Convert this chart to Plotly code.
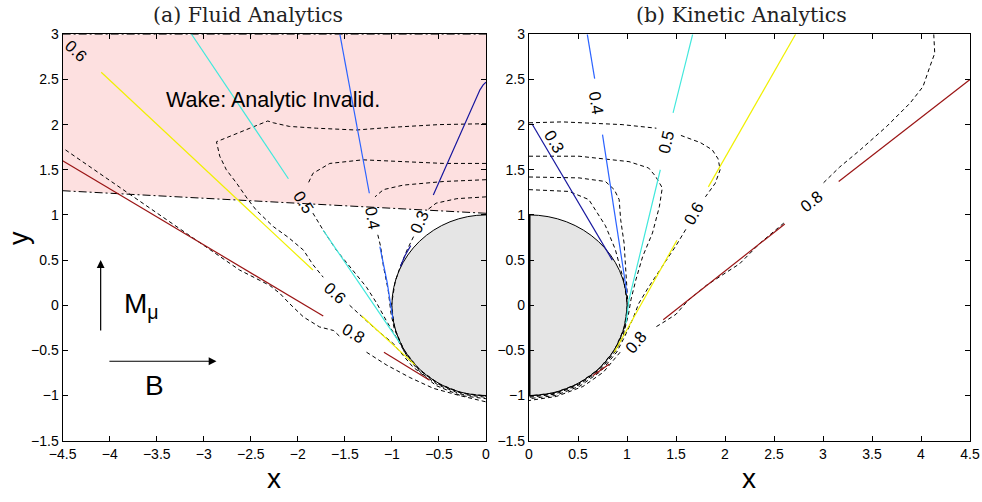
import plotly.graph_objects as go

# ---------------- data ----------------
Y_RANGE = [-1.5, 3.0]
XL_RANGE = [-4.5, 0.0]
XR_RANGE = [0.0, 4.5]
TICK_STEP = 0.5
CYL_R = 1.0

# wake boundary (fluid panel)
wake_x = [-4.5, 0.0]
wake_y = [1.268, 1.018]

# ---- (a) fluid: analytic coloured contours (None = label gap) ----
L_c03_x = [-0.56, -0.064, -0.03, 0.0, None, -0.80, -0.86, -0.91]
L_c03_y = [1.22, 2.385, 2.44, 2.47, None, 0.66, 0.55, 0.43]
L_c04_x = [-1.553, -1.24, None, -1.128, -1.05, -0.99]
L_c04_y = [3.0, 1.24, None, 0.65, 0.25, -0.15]
L_c05_x = [-3.13, -2.10, None, -1.73, -0.915]
L_c05_y = [3.0, 1.40, None, 0.83, -0.42]
L_c06_x = [-4.09, -1.84, None, -1.32, -0.755]
L_c06_y = [2.58, 0.39, None, -0.12, -0.66]
L_c08_x = [-4.5, -1.73, None, -1.085, -0.60]
L_c08_y = [1.60, -0.12, None, -0.52, -0.83]

# ---- (a) fluid: simulation dashed contours ----
L_d03_x = [0.0, -0.31, -0.53, -0.63, None, -0.77, -0.84, -0.91, -0.966, -1.005, -0.97, -0.87, -0.71, -0.50, -0.26, 0.0]
L_d03_y = [1.20, 1.18, 1.13, 1.05, None, 0.76, 0.61, 0.43, 0.259, 0.0, -0.26, -0.50, -0.71, -0.87, -0.97, -1.005]
L_d04_x = [0.0, -0.45, -0.88, -1.09, -1.18, None, -1.15, -1.12, -1.09, -1.04, -1.01, -0.975, -0.875, -0.714, -0.505, -0.26, 0.0]
L_d04_y = [1.39, 1.37, 1.33, 1.28, 1.20, None, 0.78, 0.65, 0.43, 0.17, -0.09, -0.26, -0.505, -0.714, -0.875, -0.975, -1.01]
L_d05_x = [0.0, -0.45, -0.88, -1.31, -1.66, -1.84, -1.89, None, -1.84, -1.73, -1.59, -1.45, -1.27, -1.16, -1.06, -0.94, -0.82, -0.69, -0.51, -0.264, 0.0]
L_d05_y = [1.57, 1.57, 1.59, 1.61, 1.57, 1.46, 1.35, None, 1.02, 0.83, 0.61, 0.43, 0.20, 0.02, -0.17, -0.38, -0.60, -0.75, -0.883, -0.985, -1.02]
L_d06_x = [0.0, -0.5, -1.0, -1.38, -1.8, -2.09, -2.26, -2.32, -2.51, -2.865, -2.83, -2.76, -2.65, -2.53, -2.44,
           -2.26, -2.10, -1.94, -1.84, -1.73, None, -1.45, -1.34, -1.20, -0.99, -0.78, -0.53, -0.27, 0.0]
L_d06_y = [2.01, 2.0, 1.97, 1.94, 1.96, 1.98, 2.02, 2.04, 1.96, 1.81, 1.65, 1.50, 1.35, 1.17, 1.05,
           0.87, 0.75, 0.61, 0.45, 0.31, None, 0.0, -0.11, -0.24, -0.42, -0.68, -0.89, -1.0, -1.035]
L_d08_x = [-4.47, -3.26, -2.94, -2.62, -2.30, -2.19, -2.09, -1.94, -1.77, -1.62, -1.55, None, -1.27, -1.06, -0.81, -0.56, -0.28, 0.0]
L_d08_y = [1.72, 0.85, 0.61, 0.39, 0.22, 0.13, 0.02, -0.13, -0.24, -0.28, -0.35, None, -0.52, -0.66, -0.80, -0.92, -1.0, -1.07]

# ---- (b) kinetic: analytic coloured contours ----
R_c03_x = [0.03, 0.85]
R_c03_y = [2.01, 0.50]
R_c04_x = [0.595, 0.67, None, 0.75, 1.00]
R_c04_y = [3.0, 2.51, None, 1.89, 0.13]
R_c05_x = [1.67, 1.47, None, 1.34, 1.02, 0.99]
R_c05_y = [3.0, 2.13, None, 1.50, 0.06, -0.20]
R_c06_x = [2.72, 1.83, None, 1.51, 0.87]
R_c06_y = [3.0, 1.31, None, 0.72, -0.52]
R_c08_x = [4.5, 3.16, None, 2.61, 1.37, None, 0.82, 0.65]
R_c08_y = [2.50, 1.37, None, 0.90, -0.16, None, -0.65, -0.78]

# ---- (b) kinetic: simulation dashed contours ----
R_da_x = [0.0, 0.34, 0.95, 1.30, None, 1.55, 1.75, 1.87, 1.93, 1.95, 1.90, 1.80, None, 1.60, 1.50, 1.36, 1.22, 1.12, 1.06, 0.973, 0.896, 0.732, 0.518, 0.268, 0.0]
R_da_y = [2.02, 2.03, 2.0, 1.96, None, 1.88, 1.80, 1.72, 1.62, 1.50, 1.35, 1.20, None, 0.84, 0.66, 0.43, 0.20, 0.02, -0.15, -0.354, -0.518, -0.732, -0.896, -1.0, -1.035]
R_db_x = [0.0, 0.51, 1.02, 1.22, 1.29, 1.36, 1.33, 1.26, 1.16, 1.09, 1.04, 1.015, 0.958, 0.883, 0.721, 0.51, 0.264, 0.0]
R_db_y = [1.65, 1.65, 1.59, 1.52, 1.43, 1.30, 1.09, 0.80, 0.54, 0.28, 0.06, -0.10, -0.349, -0.51, -0.721, -0.883, -0.985, -1.02]
R_dc_x = [0.0, 0.51, 0.78, 0.87, 0.92, 0.935, 0.97, 0.986, 1.0, 1.01, 0.976, 0.875, 0.714, 0.505, 0.261, 0.0]
R_dc_y = [1.42, 1.41, 1.37, 1.28, 1.17, 0.95, 0.69, 0.43, 0.14, 0.0, -0.261, -0.505, -0.714, -0.875, -0.976, -1.01]
R_dd_x = [0.0, 0.41, 0.61, 0.78, 0.88, 0.92, 0.97, 1.005, 0.97, 0.87, 0.71, 0.50, 0.26, 0.0]
R_dd_y = [1.28, 1.26, 1.17, 0.88, 0.62, 0.45, 0.26, 0.0, -0.26, -0.50, -0.71, -0.87, -0.97, -1.005]
R_d08_x = [4.13, 4.14, 4.09, 4.02, 3.89, 3.65, 3.38, 3.17, 3.00, None, 2.60, 2.36, 2.15, 1.81, 1.62, 1.50, 1.40, 1.28,
           None, 0.93, 0.76, 0.55, 0.28, 0.0]
R_d08_y = [3.0, 2.79, 2.64, 2.42, 2.24, 1.98, 1.72, 1.53, 1.35, None, 0.91, 0.69, 0.46, 0.22, 0.05, -0.10, -0.17, -0.25,
           None, -0.52, -0.74, -0.90, -1.01, -1.055]

# contour labels
L_lab_text = ["0.6", "0.5", "0.4", "0.3", "0.6", "0.8"]
L_lab_x = [-4.35, -1.94, -1.20, -0.71, -1.60, -1.41]
L_lab_y = [2.82, 1.14, 0.97, 0.92, 0.14, -0.31]
L_lab_ang = [43, 57, 80, -66, 43, 30]
R_lab_text = ["0.3", "0.4", "0.5", "0.6", "0.8", "0.8"]
R_lab_x = [0.265, 0.69, 1.395, 1.68, 2.885, 1.09]
R_lab_y = [1.81, 2.24, 1.81, 1.02, 1.15, -0.405]
R_lab_ang = [60, 81, -77, -60, -38, -50]

# arrows (tail -> head) and their captions
mu_arrow_x = [-4.096, -4.096]
mu_arrow_y = [-0.39, 0.50]
B_arrow_x = [-4.035, -2.865]
B_arrow_y = [-0.62, -0.62]
mu_text_xy = [-3.66, 0.0]
B_text_xy = [-3.52, -0.885]
wake_text_xy = [-2.26, 2.27]

# ---------------- styles ----------------
COL = {"0.3": "#16169e", "0.4": "#2a62ff", "0.5": "#40e8dc", "0.6": "#f0f000", "0.8": "#9a1414"}
PINK = "#fde0e0"
GREY = "#e5e5e5"
SANS = "Liberation Sans, Arial, sans-serif"
SERIF = "DejaVu Serif, Liberation Serif, serif"
DASH = "4px,3px"

fig = go.Figure()


def add_line(x, y, color, ax, dash="solid", width=1.2):
    fig.add_trace(go.Scatter(x=x, y=y, mode="lines", xaxis=ax[0], yaxis=ax[1],
                             line=dict(color=color, width=width, dash=dash),
                             connectgaps=False, hoverinfo="skip", showlegend=False))


AL = ("x", "y")
AR = ("x2", "y2")

# wake region
fig.add_trace(go.Scatter(x=[wake_x[0], wake_x[1], wake_x[1], wake_x[0]],
                         y=[wake_y[0], wake_y[1], Y_RANGE[1], Y_RANGE[1]],
                         fill="toself", fillcolor=PINK, mode="lines", line=dict(width=0),
                         xaxis="x", yaxis="y", hoverinfo="skip", showlegend=False))
add_line(wake_x, wake_y, "black", AL, dash="8px,3px,2px,3px", width=1)
add_line(wake_x, [Y_RANGE[1], Y_RANGE[1]], "black", AL, dash="8px,3px,2px,3px", width=1)

# dashed simulation contours
for xs, ys in [(L_d03_x, L_d03_y), (L_d04_x, L_d04_y), (L_d05_x, L_d05_y), (L_d06_x, L_d06_y), (L_d08_x, L_d08_y)]:
    add_line(xs, ys, "black", AL, dash=DASH, width=1)
for xs, ys in [(R_da_x, R_da_y), (R_db_x, R_db_y), (R_dc_x, R_dc_y), (R_dd_x, R_dd_y), (R_d08_x, R_d08_y)]:
    add_line(xs, ys, "black", AR, dash=DASH, width=1)

# coloured analytic contours
for lvl, xs, ys in [("0.3", L_c03_x, L_c03_y), ("0.4", L_c04_x, L_c04_y), ("0.5", L_c05_x, L_c05_y),
                    ("0.6", L_c06_x, L_c06_y), ("0.8", L_c08_x, L_c08_y)]:
    add_line(xs, ys, COL[lvl], AL)
for lvl, xs, ys in [("0.3", R_c03_x, R_c03_y), ("0.4", R_c04_x, R_c04_y), ("0.5", R_c05_x, R_c05_y),
                    ("0.6", R_c06_x, R_c06_y), ("0.8", R_c08_x, R_c08_y)]:
    add_line(xs, ys, COL[lvl], AR)

# flat face of the half cylinder in the kinetic panel
add_line([0.0, 0.0], [-CYL_R, CYL_R], "black", AR, width=3)

# cylinder
shapes = []
for xr, yr in [("x", "y"), ("x2", "y2")]:
    shapes.append(dict(type="circle", xref=xr, yref=yr, x0=-CYL_R, x1=CYL_R, y0=-CYL_R, y1=CYL_R,
                       fillcolor=GREY, line=dict(color="black", width=1), layer="below"))

ann = []


def label(text, x, y, xr, yr, size, family=SANS, angle=0, color="black"):
    ann.append(dict(text=text, x=x, y=y, xref=xr, yref=yr, showarrow=False, textangle=angle,
                    xanchor="center", yanchor="middle",
                    font=dict(family=family, size=size, color=color)))


for t, x, y, a in zip(L_lab_text, L_lab_x, L_lab_y, L_lab_ang):
    label(t, x, y, "x", "y", 16.5, angle=a)
for t, x, y, a in zip(R_lab_text, R_lab_x, R_lab_y, R_lab_ang):
    label(t, x, y, "x2", "y2", 16.5, angle=a)

label("Wake: Analytic Invalid.", wake_text_xy[0], wake_text_xy[1], "x", "y", 21.5)
label("M<sub>μ</sub>", mu_text_xy[0], mu_text_xy[1], "x", "y", 28)
label("B", B_text_xy[0], B_text_xy[1], "x", "y", 28)
for axs, ays in [(mu_arrow_x, mu_arrow_y), (B_arrow_x, B_arrow_y)]:
    ann.append(dict(text=" ", x=axs[1], y=ays[1], ax=axs[0], ay=ays[0], xref="x", yref="y",
                    axref="x", ayref="y", showarrow=True, arrowhead=2, arrowsize=1.3,
                    arrowwidth=1.2, arrowcolor="black"))

# titles and axis labels (paper coordinates)
label("(a) Fluid Analytics", 0.2525, 0.970, "paper", "paper", 20.5, family=SERIF, color="#222")
label("(b) Kinetic Analytics", 0.7546, 0.970, "paper", "paper", 20.5, family=SERIF, color="#222")
label("x", 0.2795, 0.046, "paper", "paper", 28)
label("x", 0.7632, 0.046, "paper", "paper", 28)
label("y", 0.0195, 0.526, "paper", "paper", 27, angle=-90)

axis_common = dict(showgrid=False, zeroline=False, showline=True, linecolor="black", linewidth=1.3,
                   mirror="ticks", ticks="inside", ticklen=5, tickcolor="black", dtick=TICK_STEP,
                   automargin=False,
                   tickfont=dict(family=SANS, size=14, color="black"))

fig.update_layout(
    width=982, height=502, margin=dict(l=0, r=0, t=0, b=0, pad=0, autoexpand=False),
    paper_bgcolor="white", plot_bgcolor="white", showlegend=False,
    xaxis=dict(domain=[0.0638, 0.4949], range=XL_RANGE, tick0=XL_RANGE[0], anchor="y", **axis_common),
    yaxis=dict(domain=[0.1221, 0.9317], range=Y_RANGE, tick0=Y_RANGE[0], anchor="x", **axis_common),
    xaxis2=dict(domain=[0.5387, 0.9878], range=XR_RANGE, tick0=XR_RANGE[0], anchor="y2", **axis_common),
    yaxis2=dict(domain=[0.1221, 0.9317], range=Y_RANGE, tick0=Y_RANGE[0], anchor="x2", **axis_common),
    shapes=shapes, annotations=ann,
)

fig.write_html("out.html")
